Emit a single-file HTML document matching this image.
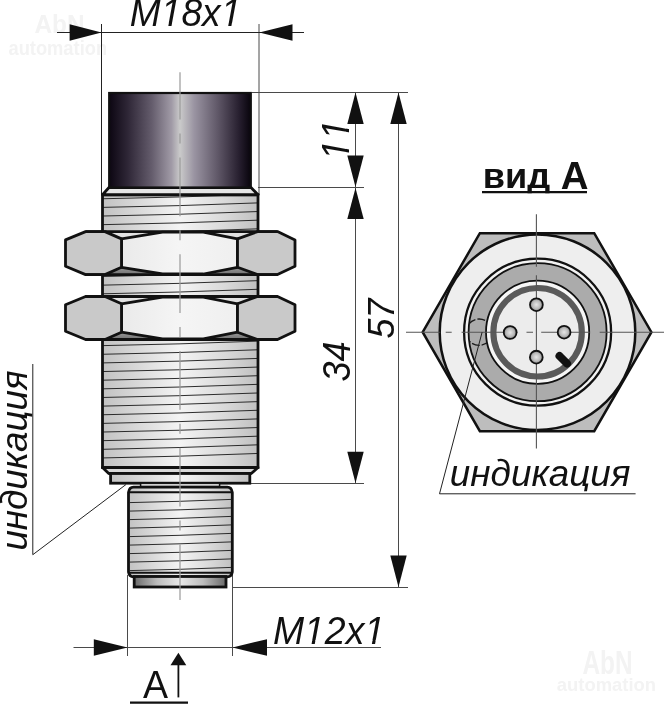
<!DOCTYPE html>
<html><head><meta charset="utf-8"><title>sensor</title>
<style>html,body{margin:0;padding:0;background:#fff;overflow:hidden;}svg{display:block;will-change:transform;font-family:"Liberation Sans",sans-serif;}</style>
</head><body><svg width="664" height="704" viewBox="0 0 664 704">
<defs>
 <linearGradient id="capG" x1="0" x2="1" y1="0" y2="0">
  <stop offset="0" stop-color="#0c0612"/>
  <stop offset="0.13" stop-color="#2e2636"/>
  <stop offset="0.30" stop-color="#645c6c"/>
  <stop offset="0.44" stop-color="#a09aa6"/>
  <stop offset="0.50" stop-color="#cacaca"/>
  <stop offset="0.60" stop-color="#9a94a2"/>
  <stop offset="0.76" stop-color="#625a6a"/>
  <stop offset="0.92" stop-color="#261e2e"/>
  <stop offset="1" stop-color="#08040c"/>
 </linearGradient>
 <linearGradient id="bodyG" x1="0" x2="1" y1="0" y2="0">
  <stop offset="0" stop-color="#c2c2c2"/>
  <stop offset="0.2" stop-color="#d6d6d6"/>
  <stop offset="0.5" stop-color="#f4f4f4"/>
  <stop offset="0.8" stop-color="#d8d8d8"/>
  <stop offset="1" stop-color="#c0c0c0"/>
 </linearGradient>
 <linearGradient id="ringG" x1="0" x2="1" y1="0" y2="0">
  <stop offset="0" stop-color="#6a6a6a"/>
  <stop offset="0.25" stop-color="#bdbdbd"/>
  <stop offset="0.5" stop-color="#e8e8e8"/>
  <stop offset="0.75" stop-color="#bdbdbd"/>
  <stop offset="1" stop-color="#6a6a6a"/>
 </linearGradient>
 <linearGradient id="faceG" x1="0" x2="1" y1="0" y2="0">
  <stop offset="0" stop-color="#eaeaea"/>
  <stop offset="0.5" stop-color="#f5f5f5"/>
  <stop offset="1" stop-color="#efefef"/>
 </linearGradient>
 <linearGradient id="botTri" x1="0" x2="0" y1="0" y2="1">
  <stop offset="0" stop-color="#9a9a9a"/>
  <stop offset="1" stop-color="#707070"/>
 </linearGradient>
 <radialGradient id="pinG" cx="0.5" cy="0.5" r="0.5">
  <stop offset="0" stop-color="#e6e6e6"/>
  <stop offset="0.6" stop-color="#bcbcbc"/>
  <stop offset="1" stop-color="#8a8a8a"/>
 </radialGradient>
</defs>
<g font-family="Liberation Sans" font-weight="bold" font-size="100" fill="#f3f3f3" style="font-kerning:none"><text transform="translate(34.39 32.75) scale(0.24454 0.25872)">AbN</text><text transform="translate(8.46 54.5) scale(0.18311 0.20017)">automation</text><text transform="translate(582.39 674.28) scale(0.24454 0.32681)">AbN</text><text transform="translate(556.76 690.83) scale(0.18443 0.17702)">automation</text></g><g stroke="#4a4a4a" stroke-width="1" fill="none"><line x1="259" y1="24" x2="259" y2="195"/><line x1="252" y1="92.5" x2="408" y2="92.5"/><line x1="258" y1="187.5" x2="364" y2="187.5"/><line x1="250" y1="483.5" x2="364" y2="483.5"/><line x1="232" y1="587.5" x2="408" y2="587.5"/><line x1="355.5" y1="92.5" x2="355.5" y2="483.5"/><line x1="398.5" y1="92.5" x2="398.5" y2="587.5"/><line x1="73.5" y1="647.5" x2="381" y2="647.5"/><line x1="127.5" y1="575" x2="127.5" y2="656"/><line x1="232.5" y1="575" x2="232.5" y2="656"/></g><line x1="57" y1="32.5" x2="304" y2="32.5" stroke="#222" stroke-width="1.1"/><line x1="101.5" y1="24" x2="101.5" y2="195" stroke="#222" stroke-width="1"/><line x1="178.4" y1="660" x2="178.4" y2="697.4" stroke="#111" stroke-width="1.8"/><g fill="#111"><polygon points="101.5,32.5 69.6,24.2 69.6,40.8"/><polygon points="259.3,32.5 292.5,24.2 292.5,40.8"/><polygon points="355.5,92.5 347.3,124 363.7,124"/><polygon points="355.5,187 347.3,155.5 363.7,155.5"/><polygon points="355.5,188 347.3,219 363.7,219"/><polygon points="355.5,483 347.3,451.7 363.7,451.7"/><polygon points="398.5,92.5 390.3,124 406.7,124"/><polygon points="398.5,587 390.3,555.5 406.7,555.5"/><polygon points="127.5,647.5 93.8,639.2 93.8,655.8"/><polygon points="232.5,647.5 267,639.2 267,655.8"/><polygon points="178.4,652.7 170.5,665.3 186.3,665.3"/></g><rect x="102.5" y="194.75" width="155.5" height="272.75" fill="url(#bodyG)"/><g stroke="#222" stroke-width="0.95" fill="none"><path d="M102.5 198.75 L180 196.95 L258 194.25"/><path d="M102.5 207.39 L180 205.59 L258 202.89"/><path d="M102.5 216.03 L180 214.23 L258 211.53"/><path d="M102.5 224.67 L180 222.87 L258 220.17"/><path d="M102.5 233.31 L180 231.51 L258 228.81"/><path d="M102.5 241.95 L180 240.15 L258 237.45"/><path d="M102.5 250.59 L180 248.79 L258 246.09"/><path d="M102.5 259.23 L180 257.43 L258 254.73"/><path d="M102.5 267.87 L180 266.07 L258 263.37"/><path d="M102.5 276.51 L180 274.71 L258 272.01"/><path d="M102.5 285.15 L180 283.35 L258 280.65"/><path d="M102.5 293.79 L180 291.99 L258 289.29"/><path d="M102.5 302.43 L180 300.63 L258 297.93"/><path d="M102.5 311.07 L180 309.27 L258 306.57"/><path d="M102.5 319.71 L180 317.91 L258 315.21"/><path d="M102.5 328.35 L180 326.55 L258 323.85"/><path d="M102.5 336.99 L180 335.19 L258 332.49"/><path d="M102.5 345.63 L180 343.83 L258 341.13"/><path d="M102.5 354.27 L180 352.47 L258 349.77"/><path d="M102.5 362.91 L180 361.11 L258 358.41"/><path d="M102.5 371.55 L180 369.75 L258 367.05"/><path d="M102.5 380.19 L180 378.39 L258 375.69"/><path d="M102.5 388.83 L180 387.03 L258 384.33"/><path d="M102.5 397.47 L180 395.67 L258 392.97"/><path d="M102.5 406.11 L180 404.31 L258 401.61"/><path d="M102.5 414.75 L180 412.95 L258 410.25"/><path d="M102.5 423.39 L180 421.59 L258 418.89"/><path d="M102.5 432.03 L180 430.23 L258 427.53"/><path d="M102.5 440.67 L180 438.87 L258 436.17"/><path d="M102.5 449.31 L180 447.51 L258 444.81"/><path d="M102.5 457.95 L180 456.15 L258 453.45"/></g><rect x="102.5" y="194.75" width="155.5" height="272.75" fill="none" stroke="#111" stroke-width="2.8"/><polygon points="109,187.5 251,187.5 258,194.75 102.5,194.75" fill="#e6e6e6" stroke="#111" stroke-width="2.8" stroke-linejoin="round"/><rect x="109.2" y="93" width="141.6" height="94.5" fill="url(#capG)" stroke="#111" stroke-width="2.2"/><polygon points="102.5,467.5 258,467.5 251.25,473.5 108.75,473.5" fill="#d8d8d8" stroke="#111" stroke-width="2.8" stroke-linejoin="round"/><rect x="110.6" y="473.5" width="139.2" height="9.7" fill="url(#bodyG)" stroke="#111" stroke-width="2.8"/><rect x="140.6" y="483.2" width="79" height="4" fill="#d0d0d0" stroke="#111" stroke-width="1.5"/><path d="M128.5 492.5 Q129.3 487.2 133.5 487.2 L227.3 487.2 Q231.5 487.2 232.3 492.5 L232.3 572 Q231.5 576.8 227.3 576.8 L133.5 576.8 Q129.3 576.8 128.5 572 Z" fill="url(#bodyG)" stroke="#111" stroke-width="2.8" stroke-linejoin="round"/><line x1="128.5" y1="492.2" x2="232.3" y2="492.2" stroke="#111" stroke-width="2"/><line x1="128.5" y1="572.8" x2="232.3" y2="572.8" stroke="#111" stroke-width="2"/><g stroke="#222" stroke-width="0.95" fill="none"><path d="M129.5 502.6 L180 501.3 L231.3 499.4"/><path d="M129.5 511.1 L180 509.8 L231.3 507.9"/><path d="M129.5 519.6 L180 518.3 L231.3 516.4"/><path d="M129.5 528.1 L180 526.8 L231.3 524.9"/><path d="M129.5 536.6 L180 535.3 L231.3 533.4"/><path d="M129.5 545.1 L180 543.8 L231.3 541.9"/><path d="M129.5 553.6 L180 552.3 L231.3 550.4"/><path d="M129.5 562.1 L180 560.8 L231.3 558.9"/><path d="M129.5 570.6 L180 569.3 L231.3 567.4"/></g><rect x="134.2" y="576.5" width="91.8" height="10.5" fill="url(#ringG)" stroke="#111" stroke-width="2.8"/><polygon points="105,231.6 121.5,238.9 162.5,231.6" fill="#e2e2e2"/><polygon points="257.5,231.6 237.5,238.9 203.3,231.6" fill="#e2e2e2"/><polygon points="105,274.6 121.5,267.3 162.5,274.6" fill="url(#botTri)"/><polygon points="257.5,274.6 237.5,267.3 203.3,274.6" fill="url(#botTri)"/><polygon points="121.5,238.9 162.5,232.2 203.3,232.2 237.5,238.9 237.5,267.3 203.3,274 162.5,274 121.5,267.3" fill="url(#faceG)" stroke="#111" stroke-width="2.8" stroke-linejoin="round"/><polygon points="65.5,239.9 85.6,231.6 105,231.6 121.5,238.9 121.5,267.3 105,274.6 85.6,274.6 65.5,266.3" fill="#c9c9c9" stroke="#111" stroke-width="2.8" stroke-linejoin="round"/><polygon points="295,239.9 277.5,231.6 257.5,231.6 237.5,238.9 237.5,267.3 257.5,274.6 277.5,274.6 295,266.3" fill="#c9c9c9" stroke="#111" stroke-width="2.8" stroke-linejoin="round"/><line x1="85.6" y1="231.6" x2="277.5" y2="231.6" stroke="#111" stroke-width="2.8"/><line x1="85.6" y1="274.6" x2="277.5" y2="274.6" stroke="#111" stroke-width="2.8"/><polygon points="105,296.5 121.5,303.8 162.5,296.5" fill="#e2e2e2"/><polygon points="257.5,296.5 237.5,303.8 203.3,296.5" fill="#e2e2e2"/><polygon points="105,339.5 121.5,332.2 162.5,339.5" fill="url(#botTri)"/><polygon points="257.5,339.5 237.5,332.2 203.3,339.5" fill="url(#botTri)"/><polygon points="121.5,303.8 162.5,297.1 203.3,297.1 237.5,303.8 237.5,332.2 203.3,338.9 162.5,338.9 121.5,332.2" fill="url(#faceG)" stroke="#111" stroke-width="2.8" stroke-linejoin="round"/><polygon points="65.5,304.8 85.6,296.5 105,296.5 121.5,303.8 121.5,332.2 105,339.5 85.6,339.5 65.5,331.2" fill="#c9c9c9" stroke="#111" stroke-width="2.8" stroke-linejoin="round"/><polygon points="295,304.8 277.5,296.5 257.5,296.5 237.5,303.8 237.5,332.2 257.5,339.5 277.5,339.5 295,331.2" fill="#c9c9c9" stroke="#111" stroke-width="2.8" stroke-linejoin="round"/><line x1="85.6" y1="296.5" x2="277.5" y2="296.5" stroke="#111" stroke-width="2.8"/><line x1="85.6" y1="339.5" x2="277.5" y2="339.5" stroke="#111" stroke-width="2.8"/><line x1="180" y1="72.3" x2="180" y2="600" stroke="#9a9a9a" stroke-width="1.2" stroke-dasharray="58.7 14 10 14" stroke-dashoffset="11.4"/><polygon points="422.7,332.2 479.87,233.17 594.22,233.17 651.4,332.2 594.22,431.23 479.88,431.23" fill="#bdbdbd" stroke="#111" stroke-width="2.5" stroke-linejoin="miter"/><circle cx="537.5" cy="332.2" r="97.8" fill="#eeeeee" stroke="#111" stroke-width="2.5"/><circle cx="537.6" cy="332.2" r="73.5" fill="#f2f2f2" stroke="#111" stroke-width="2.3"/><circle cx="537.6" cy="332.2" r="69" fill="#ababab" stroke="#111" stroke-width="1.8"/><circle cx="537.6" cy="332.2" r="51.6" fill="#f6f6f6" stroke="#111" stroke-width="1.8"/><circle cx="537.6" cy="332.2" r="44.25" fill="#ececec" stroke="#5a5a5a" stroke-width="6.1"/><clipPath id="annul"><path clip-rule="evenodd" d="M537.6 332.2 m-69 0 a69 69 0 1 0 138 0 a69 69 0 1 0 -138 0 Z M537.6 332.2 m-51.6 0 a51.6 51.6 0 1 0 103.2 0 a51.6 51.6 0 1 0 -103.2 0 Z"/></clipPath><circle cx="479.1" cy="332.2" r="13.2" fill="none" stroke="#1a1a1a" stroke-width="1.3" stroke-dasharray="8 2" clip-path="url(#annul)"/><path stroke="#555" stroke-width="1.1" fill="none" d="M406 332.2H439.8M445.7 332.2H451.7M461.6 332.2H517.5M526.5 332.2H533M541.2 332.2H589.8M599.7 332.2H664"/><path stroke="#555" stroke-width="1.1" fill="none" d="M536.4 214.2V266.8M536.4 275.3V448.5"/><circle cx="536.4" cy="304.7" r="6.4" fill="url(#pinG)" stroke="#111" stroke-width="1.8"/><circle cx="510.15" cy="332.5" r="6.4" fill="url(#pinG)" stroke="#111" stroke-width="1.8"/><circle cx="564.1" cy="332.2" r="6.4" fill="url(#pinG)" stroke="#111" stroke-width="1.8"/><circle cx="536.3" cy="357.15" r="6.4" fill="url(#pinG)" stroke="#111" stroke-width="1.8"/><line x1="559.5" y1="356" x2="567" y2="363.5" stroke="#111" stroke-width="8" stroke-linecap="round"/><g stroke="#222" stroke-width="1" fill="none"><polyline points="126,484.5 32.8,554.7 32.8,364"/><polyline points="482.1,332.2 439.5,493.8 635.6,493.8"/></g><g font-family="Liberation Sans" font-size="100" fill="#111" style="font-kerning:none"><clipPath id="tc1" clipPathUnits="userSpaceOnUse"><path clip-rule="evenodd" d="M-39.06 -126.95 H339.21 V58.59 H-39.06 Z M82.32 6.84 L102.25 6.84 L105.14 -8.06 L82.32 -8.06 Z M110.8 6.84 L132.62 6.84 L132.62 -8.06 L113.69 -8.06 Z M243.55 6.84 L263.48 6.84 L266.37 -8.06 L243.55 -8.06 Z M272.03 6.84 L293.85 6.84 L293.85 -8.06 L274.92 -8.06 Z"/></clipPath><text transform="translate(129.86 26) scale(0.37140 0.38954)" font-style="italic" clip-path="url(#tc1)">M18x1</text><clipPath id="tc2" clipPathUnits="userSpaceOnUse"><path clip-rule="evenodd" d="M-39.06 -126.95 H339.21 V58.59 H-39.06 Z M82.32 6.84 L102.25 6.84 L105.14 -8.06 L82.32 -8.06 Z M110.8 6.84 L132.62 6.84 L132.62 -8.06 L113.69 -8.06 Z M243.55 6.84 L263.48 6.84 L266.37 -8.06 L243.55 -8.06 Z M272.03 6.84 L293.85 6.84 L293.85 -8.06 L274.92 -8.06 Z"/></clipPath><text transform="translate(272.95 643.5) scale(0.37387 0.38809)" font-style="italic" clip-path="url(#tc2)">M12x1</text><clipPath id="tc3" clipPathUnits="userSpaceOnUse"><path clip-rule="evenodd" d="M-39.06 -126.95 H150.29 V58.59 H-39.06 Z M-0.98 6.84 L18.95 6.84 L21.84 -8.06 L-0.98 -8.06 Z M27.5 6.84 L49.32 6.84 L49.32 -8.06 L30.39 -8.06 Z M54.64 6.84 L74.57 6.84 L77.46 -8.06 L54.64 -8.06 Z M83.11 6.84 L104.93 6.84 L104.93 -8.06 L86 -8.06 Z"/></clipPath><text transform="translate(348.75 159.95) rotate(-90) scale(0.36499 0.39245)" font-style="italic" clip-path="url(#tc3)">11</text><text transform="translate(350 381.54) rotate(-90) scale(0.36052 0.38559)" font-style="italic">34</text><text transform="translate(393.64 338.51) rotate(-90) scale(0.35963 0.37119)" font-style="italic">57</text><clipPath id="tc4" clipPathUnits="userSpaceOnUse"><path clip-rule="evenodd" d="M-39.06 -126.95 H529.64 V14.34 H-39.06 Z"/></clipPath><text transform="translate(449.85 485.9) scale(0.36831 0.36909)" font-style="italic" clip-path="url(#tc4)">индикация</text><clipPath id="tc5" clipPathUnits="userSpaceOnUse"><path clip-rule="evenodd" d="M-39.06 -126.95 H529.64 V14.34 H-39.06 Z"/></clipPath><text transform="translate(27 550.54) rotate(-90) scale(0.36707 0.36152)" font-style="italic" clip-path="url(#tc5)">индикация</text><clipPath id="tc6" clipPathUnits="userSpaceOnUse"><path clip-rule="evenodd" d="M-39.06 -126.95 H225.49 V13.55 H-39.06 Z"/></clipPath><text transform="translate(482.67 188.4) scale(0.36207 0.35774)" font-weight="bold" clip-path="url(#tc6)">вид</text><text transform="translate(560.64 188.6) scale(0.38456 0.38373)" font-weight="bold">A</text><text transform="translate(143.03 697.8) scale(0.37552 0.38663)">A</text></g><line x1="482" y1="192.2" x2="587" y2="192.2" stroke="#111" stroke-width="2.2"/><line x1="130" y1="702.6" x2="188" y2="702.6" stroke="#111" stroke-width="2.2"/></svg></body></html>
